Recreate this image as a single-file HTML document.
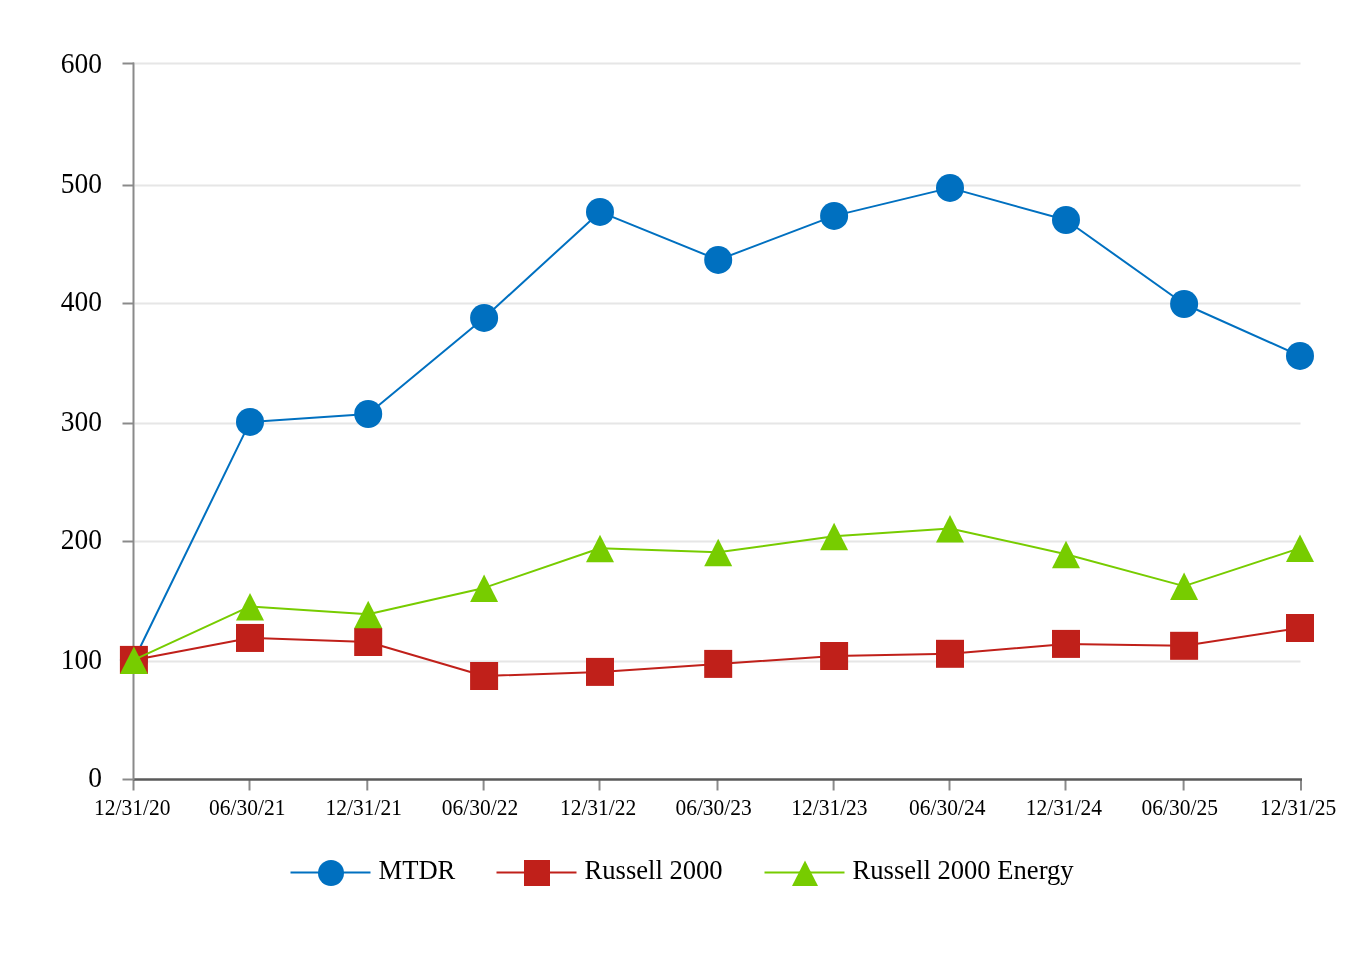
<!DOCTYPE html><html><head><meta charset="utf-8"><style>html,body{margin:0;padding:0;background:#fff;overflow:hidden;}svg{display:block;}text{font-family:"Liberation Serif", serif;fill:#000;filter:grayscale(1);}</style></head><body>
<svg width="1364" height="960" viewBox="0 0 1364 960">
<rect width="1364" height="960" fill="#fff"/>
<line x1="134.5" y1="63.5" x2="1300.5" y2="63.5" stroke="#e6e6e6" stroke-width="2"/>
<line x1="134.5" y1="185.5" x2="1300.5" y2="185.5" stroke="#e6e6e6" stroke-width="2"/>
<line x1="134.5" y1="303.5" x2="1300.5" y2="303.5" stroke="#e6e6e6" stroke-width="2"/>
<line x1="134.5" y1="423.5" x2="1300.5" y2="423.5" stroke="#e6e6e6" stroke-width="2"/>
<line x1="134.5" y1="541.5" x2="1300.5" y2="541.5" stroke="#e6e6e6" stroke-width="2"/>
<line x1="134.5" y1="661.5" x2="1300.5" y2="661.5" stroke="#e6e6e6" stroke-width="2"/>
<text transform="translate(102,62.9) scale(1,1.055)" font-size="27.5" text-anchor="end" dominant-baseline="central">600</text>
<text transform="translate(102,183.0) scale(1,1.055)" font-size="27.5" text-anchor="end" dominant-baseline="central">500</text>
<text transform="translate(102,301.0) scale(1,1.055)" font-size="27.5" text-anchor="end" dominant-baseline="central">400</text>
<text transform="translate(102,421.0) scale(1,1.055)" font-size="27.5" text-anchor="end" dominant-baseline="central">300</text>
<text transform="translate(102,539.0) scale(1,1.055)" font-size="27.5" text-anchor="end" dominant-baseline="central">200</text>
<text transform="translate(102,659.0) scale(1,1.055)" font-size="27.5" text-anchor="end" dominant-baseline="central">100</text>
<text transform="translate(102,777.0) scale(1,1.055)" font-size="27.5" text-anchor="end" dominant-baseline="central">0</text>
<line x1="133.5" y1="779" x2="133.5" y2="790.5" stroke="#8a8a8a" stroke-width="2"/>
<line x1="249.5" y1="779" x2="249.5" y2="790.5" stroke="#8a8a8a" stroke-width="2"/>
<line x1="367.3" y1="779" x2="367.3" y2="790.5" stroke="#8a8a8a" stroke-width="2"/>
<line x1="483.6" y1="779" x2="483.6" y2="790.5" stroke="#8a8a8a" stroke-width="2"/>
<line x1="599.5" y1="779" x2="599.5" y2="790.5" stroke="#8a8a8a" stroke-width="2"/>
<line x1="717.5" y1="779" x2="717.5" y2="790.5" stroke="#8a8a8a" stroke-width="2"/>
<line x1="833.6" y1="779" x2="833.6" y2="790.5" stroke="#8a8a8a" stroke-width="2"/>
<line x1="949.5" y1="779" x2="949.5" y2="790.5" stroke="#8a8a8a" stroke-width="2"/>
<line x1="1065.5" y1="779" x2="1065.5" y2="790.5" stroke="#8a8a8a" stroke-width="2"/>
<line x1="1183.6" y1="779" x2="1183.6" y2="790.5" stroke="#8a8a8a" stroke-width="2"/>
<line x1="1301.0" y1="779" x2="1301.0" y2="790.5" stroke="#8a8a8a" stroke-width="2"/>
<line x1="133" y1="779.5" x2="1302" y2="779.5" stroke="#5a5a5a" stroke-width="2.5"/>
<line x1="133.5" y1="62.5" x2="133.5" y2="780" stroke="#8a8a8a" stroke-width="2"/>
<line x1="122.5" y1="63.5" x2="134" y2="63.5" stroke="#8a8a8a" stroke-width="2"/>
<line x1="122.5" y1="185.5" x2="134" y2="185.5" stroke="#8a8a8a" stroke-width="2"/>
<line x1="122.5" y1="303.5" x2="134" y2="303.5" stroke="#8a8a8a" stroke-width="2"/>
<line x1="122.5" y1="423.5" x2="134" y2="423.5" stroke="#8a8a8a" stroke-width="2"/>
<line x1="122.5" y1="541.5" x2="134" y2="541.5" stroke="#8a8a8a" stroke-width="2"/>
<line x1="122.5" y1="661.5" x2="134" y2="661.5" stroke="#8a8a8a" stroke-width="2"/>
<line x1="122.5" y1="779.5" x2="134" y2="779.5" stroke="#8a8a8a" stroke-width="2"/>
<text transform="translate(132.30,815) scale(1,1.085)" font-size="21.5" text-anchor="middle">12/31/20</text>
<text transform="translate(247.20,815) scale(1,1.085)" font-size="21.5" text-anchor="middle">06/30/21</text>
<text transform="translate(363.80,815) scale(1,1.085)" font-size="21.5" text-anchor="middle">12/31/21</text>
<text transform="translate(479.95,815) scale(1,1.085)" font-size="21.5" text-anchor="middle">06/30/22</text>
<text transform="translate(598.10,815) scale(1,1.085)" font-size="21.5" text-anchor="middle">12/31/22</text>
<text transform="translate(713.60,815) scale(1,1.085)" font-size="21.5" text-anchor="middle">06/30/23</text>
<text transform="translate(829.40,815) scale(1,1.085)" font-size="21.5" text-anchor="middle">12/31/23</text>
<text transform="translate(947.25,815) scale(1,1.085)" font-size="21.5" text-anchor="middle">06/30/24</text>
<text transform="translate(1063.90,815) scale(1,1.085)" font-size="21.5" text-anchor="middle">12/31/24</text>
<text transform="translate(1179.80,815) scale(1,1.085)" font-size="21.5" text-anchor="middle">06/30/25</text>
<text transform="translate(1298.10,815) scale(1,1.085)" font-size="21.5" text-anchor="middle">12/31/25</text>
<polyline points="133.9,660.0 250.0,421.9 368.2,414.0 484.1,317.9 600.0,211.9 718.2,259.9 834.1,215.9 950.0,187.9 1066.0,220.0 1184.1,304.0 1300.0,355.9" fill="none" stroke="#0070c0" stroke-width="2" stroke-linejoin="round"/>
<circle cx="133.9" cy="660.0" r="14" fill="#0070c0"/>
<circle cx="250.0" cy="421.9" r="14" fill="#0070c0"/>
<circle cx="368.2" cy="414.0" r="14" fill="#0070c0"/>
<circle cx="484.1" cy="317.9" r="14" fill="#0070c0"/>
<circle cx="600.0" cy="211.9" r="14" fill="#0070c0"/>
<circle cx="718.2" cy="259.9" r="14" fill="#0070c0"/>
<circle cx="834.1" cy="215.9" r="14" fill="#0070c0"/>
<circle cx="950.0" cy="187.9" r="14" fill="#0070c0"/>
<circle cx="1066.0" cy="220.0" r="14" fill="#0070c0"/>
<circle cx="1184.1" cy="304.0" r="14" fill="#0070c0"/>
<circle cx="1300.0" cy="355.9" r="14" fill="#0070c0"/>
<polyline points="133.9,659.9 250.0,637.95 368.2,642.0 484.1,676.0 600.0,671.9 718.2,663.9 834.1,656.0 950.0,653.8 1066.0,643.9 1184.1,645.8 1300.0,628.0" fill="none" stroke="#c0201a" stroke-width="2" stroke-linejoin="round"/>
<rect x="119.9" y="645.9" width="28" height="28" fill="#c0201a"/>
<rect x="236.0" y="623.95" width="28" height="28" fill="#c0201a"/>
<rect x="354.2" y="628.0" width="28" height="28" fill="#c0201a"/>
<rect x="470.1" y="662.0" width="28" height="28" fill="#c0201a"/>
<rect x="586.0" y="657.9" width="28" height="28" fill="#c0201a"/>
<rect x="704.2" y="649.9" width="28" height="28" fill="#c0201a"/>
<rect x="820.1" y="642.0" width="28" height="28" fill="#c0201a"/>
<rect x="936.0" y="639.8" width="28" height="28" fill="#c0201a"/>
<rect x="1052.0" y="629.9" width="28" height="28" fill="#c0201a"/>
<rect x="1170.1" y="631.8" width="28" height="28" fill="#c0201a"/>
<rect x="1286.0" y="614.0" width="28" height="28" fill="#c0201a"/>
<polyline points="133.9,659.9 250.0,606.4 368.2,614.2 484.1,587.9 600.0,548.3 718.2,552.3 834.1,536.3 950.0,528.4 1066.0,554.2 1184.1,586.1 1300.0,548.1" fill="none" stroke="#77cc00" stroke-width="2" stroke-linejoin="round"/>
<path d="M133.9,646.4 L147.9,673.9 L119.9,673.9 Z" fill="#77cc00"/>
<path d="M250.0,592.9 L264.0,620.4 L236.0,620.4 Z" fill="#77cc00"/>
<path d="M368.2,600.7 L382.2,628.2 L354.2,628.2 Z" fill="#77cc00"/>
<path d="M484.1,574.4 L498.1,601.9 L470.1,601.9 Z" fill="#77cc00"/>
<path d="M600.0,534.8 L614.0,562.3 L586.0,562.3 Z" fill="#77cc00"/>
<path d="M718.2,538.8 L732.2,566.3 L704.2,566.3 Z" fill="#77cc00"/>
<path d="M834.1,522.8 L848.1,550.3 L820.1,550.3 Z" fill="#77cc00"/>
<path d="M950.0,514.9 L964.0,542.4 L936.0,542.4 Z" fill="#77cc00"/>
<path d="M1066.0,540.7 L1080.0,568.2 L1052.0,568.2 Z" fill="#77cc00"/>
<path d="M1184.1,572.6 L1198.1,600.1 L1170.1,600.1 Z" fill="#77cc00"/>
<path d="M1300.0,534.6 L1314.0,562.1 L1286.0,562.1 Z" fill="#77cc00"/>
<line x1="290.5" y1="872.5" x2="370.5" y2="872.5" stroke="#0070c0" stroke-width="2"/><circle cx="331.0" cy="873.0" r="13" fill="#0070c0"/><text x="378.5" y="879" font-size="26.6">MTDR</text>
<line x1="496.5" y1="872.5" x2="576.5" y2="872.5" stroke="#c0201a" stroke-width="2"/><rect x="524.0" y="860.0" width="26" height="26" fill="#c0201a"/><text x="584.5" y="879" font-size="26.6">Russell 2000</text>
<line x1="764.5" y1="872.5" x2="844.5" y2="872.5" stroke="#77cc00" stroke-width="2"/><path d="M805.0,860.5 L818.0,886.0 L792.0,886.0 Z" fill="#77cc00"/><text x="852.5" y="879" font-size="26.6">Russell 2000 Energy</text>
</svg></body></html>
